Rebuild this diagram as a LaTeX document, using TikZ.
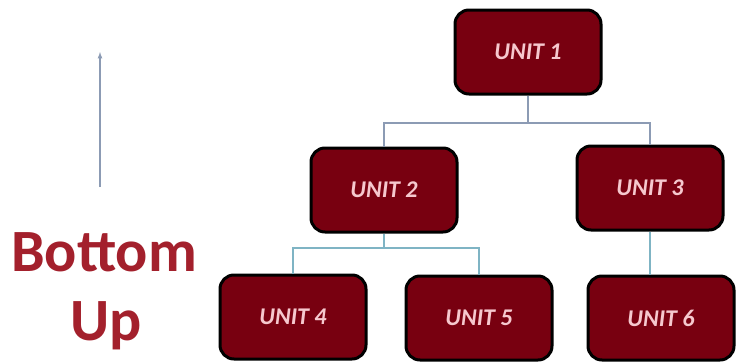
\documentclass[tikz,border=0pt]{standalone}
\usepackage{fontspec}
\setmainfont{Carlito}
\usepackage{tikz}
\definecolor{unitfill}{HTML}{780010}
\definecolor{unittext}{HTML}{F6C8CE}
\definecolor{labelred}{HTML}{A3202C}
\definecolor{topline}{HTML}{8C9BB4}
\definecolor{lowline}{HTML}{7FB4C4}
\tikzset{unit/.style={draw=black,line width=3pt,fill=unitfill,rounded corners=14pt,minimum width=146pt,minimum height=84pt,text=unittext,font=\fontsize{24}{26}\selectfont\bfseries\itshape},
         link/.style={line width=1.3pt}}

\begin{document}
\begin{tikzpicture}[x=1pt,y=-1pt]
\useasboundingbox (0,0) rectangle (737,364);
\node[unit] (u1) at (528,52) {UNIT 1};
\node[unit] (u2) at (384,190) {UNIT 2};
\node[unit] (u3) at (650,188) {UNIT 3};
\node[unit] (u4) at (293,317) {UNIT 4};
\node[unit] (u5) at (479,318) {UNIT 5};
\node[unit] (u6) at (661,318) {UNIT 6};

\coordinate (b1) at (528,123);% upper bus
\coordinate (b2) at (384,248);% lower bus
\draw[link,draw=topline] (u1.south) -- (b1);
\draw[link,draw=topline] (u2.north) |- (b1) -| (u3.north);
\draw[link,draw=lowline] (u2.south) -- (b2);
\draw[link,draw=lowline] (u4.north) |- (b2) -| (u5.north);
\draw[link,draw=lowline] (u3.south) -- (u3.south |- u6.north);

\coordinate (arrowbot) at (100,187);
\coordinate (arrowtop) at (100,52);
\draw[-latex,line width=1.2pt,draw=topline] (arrowbot) -- (arrowtop);
\node[text=labelred,font=\fontsize{60}{60}\selectfont\bfseries] (bottom) at (104,252) {Bottom};
\node[text=labelred,font=\fontsize{60}{60}\selectfont\bfseries] (up) at (106,326) {Up};
\end{tikzpicture}
\end{document}
